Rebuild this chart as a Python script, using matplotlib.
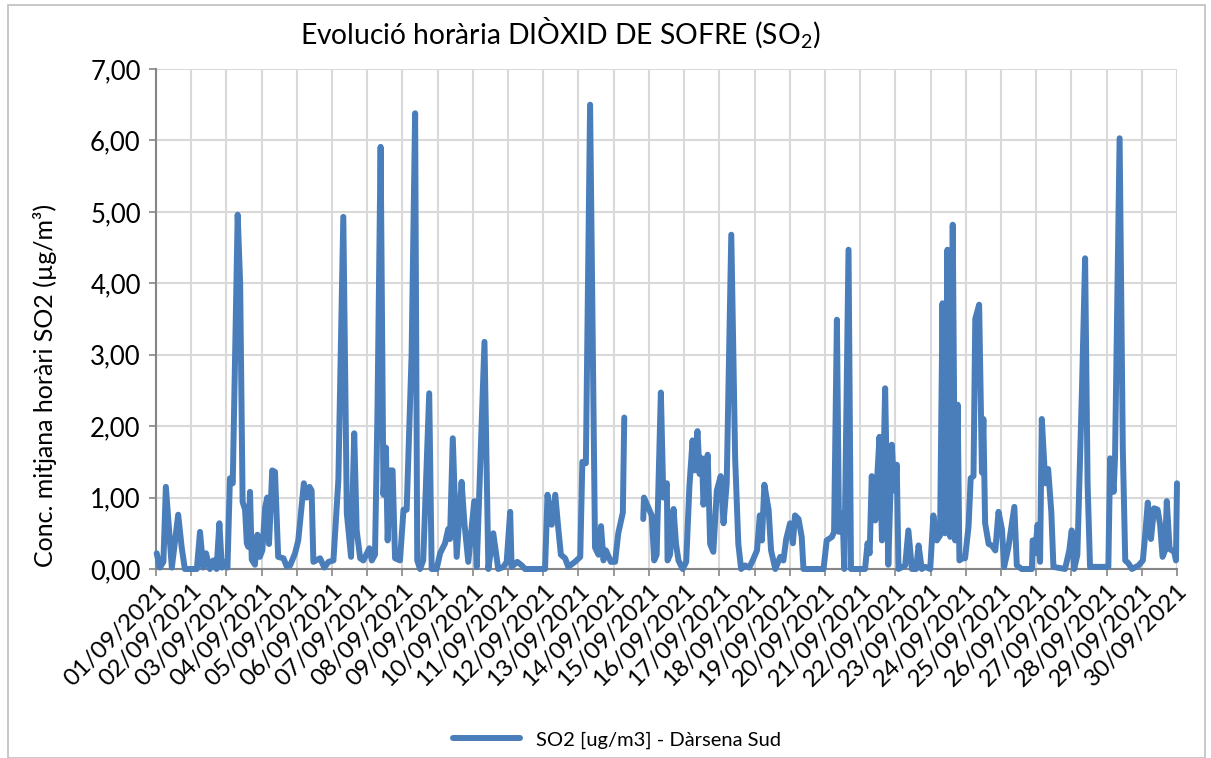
import matplotlib
matplotlib.use("Agg")
import matplotlib.pyplot as plt
import numpy as np
from matplotlib.patches import Rectangle
from matplotlib.ticker import FuncFormatter

plt.rcParams['font.family'] = ['Lato', 'DejaVu Sans']
plt.rcParams['mathtext.fontset'] = 'custom'
plt.rcParams['mathtext.rm'] = 'Lato'

# time in days since 01/09/2021 00:00, SO2 hourly concentration (ug/m3)
days = [0.02, 0.11, 0.21, 0.28, 0.45, 0.63, 0.73, 0.82, 1.16, 1.25, 1.34, 1.42, 1.53, 1.63, 1.72, 1.80, 1.87, 1.96, 2.03,
        2.10, 2.18, 2.32, 2.39, 2.46, 2.53, 2.58, 2.62, 2.67, 2.72, 2.81, 2.88, 2.95, 3.02, 3.10, 3.16, 3.21, 3.26, 3.30,
        3.38, 3.47, 3.62, 3.71, 3.81, 3.95, 4.04, 4.14, 4.20, 4.28, 4.36, 4.42, 4.47, 4.66, 4.78, 4.90, 5.04, 5.18, 5.32,
        5.42, 5.54, 5.63, 5.70, 5.80, 5.89, 6.06, 6.13, 6.22, 6.29, 6.38, 6.46, 6.53, 6.58, 6.65, 6.72, 6.79, 6.93, 7.03,
        7.12, 7.26, 7.36, 7.42, 7.50, 7.59, 7.76, 7.83, 7.97, 8.07, 8.21, 8.30, 8.35, 8.43, 8.54, 8.68, 8.76, 8.87, 9.04,
        9.11, 9.33, 9.44, 9.58, 9.72, 9.87, 9.96, 10.06, 10.10, 10.26, 10.39, 10.48, 11.05, 11.12, 11.24, 11.34, 11.43,
        11.50, 11.62, 11.71, 11.90, 12.05, 12.11, 12.21, 12.33, 12.47, 12.57, 12.64, 12.71, 12.78, 12.92, 13.04, 13.13,
        13.26, 13.30, 13.60, 13.84, 13.86, 13.99, 14.08, 14.15, 14.22, 14.34, 14.41, 14.51, 14.53, 14.60, 14.70, 14.77,
        14.84, 14.96, 15.06, 15.15, 15.24, 15.29, 15.38, 15.44, 15.51, 15.55, 15.67, 15.74, 15.83, 15.93, 16.04, 16.12,
        16.21, 16.34, 16.45, 16.54, 16.62, 16.73, 16.85, 16.95, 17.07, 17.15, 17.21, 17.28, 17.40, 17.47, 17.59, 17.73,
        17.82, 17.90, 18.01, 18.09, 18.15, 18.25, 18.34, 18.39, 18.96, 19.05, 19.20, 19.26, 19.34, 19.40, 19.50, 19.55,
        19.67, 19.74, 20.14, 20.21, 20.27, 20.33, 20.43, 20.47, 20.55, 20.62, 20.71, 20.80, 20.90, 20.97, 21.04, 21.09,
        21.28, 21.37, 21.47, 21.59, 21.66, 21.75, 21.85, 21.99, 22.08, 22.18, 22.27, 22.34, 22.41, 22.48, 22.56, 22.63,
        22.70, 22.77, 22.82, 22.89, 22.98, 23.08, 23.14, 23.22, 23.27, 23.38, 23.46, 23.50, 23.55, 23.65, 23.74, 23.84,
        23.93, 24.03, 24.09, 24.21, 24.38, 24.45, 24.59, 24.88, 24.90, 24.97, 25.04, 25.11, 25.16, 25.26, 25.34, 25.43,
        25.49, 25.82, 25.94, 26.01, 26.08, 26.17, 26.30, 26.39, 26.46, 26.53, 27.05, 27.10, 27.20, 27.24, 27.37, 27.46,
        27.53, 27.62, 27.72, 27.91, 28.03, 28.10, 28.17, 28.26, 28.35, 28.45, 28.52, 28.59, 28.66, 28.71, 28.79, 28.92,
        28.97, 29.0]
so2 = [0.22, 0.02, 0.10, 1.15, 0.02, 0.76, 0.30, 0.00, 0.00, 0.52, 0.02, 0.22, 0.00, 0.12, 0.00, 0.64, 0.02, 0.10, 0.02,
       1.27, 1.20, 4.96, 4.00, 0.94, 0.83, 0.36, 0.31, 1.08, 0.13, 0.06, 0.48, 0.17, 0.26, 0.86, 1.00, 0.35, 0.90, 1.38,
       1.36, 0.17, 0.15, 0.04, 0.05, 0.22, 0.40, 0.90, 1.20, 1.00, 1.15, 1.10, 0.10, 0.15, 0.02, 0.10, 0.12, 1.25, 4.93,
       0.78, 0.17, 1.90, 0.54, 0.15, 0.12, 0.29, 0.12, 0.20, 2.18, 5.91, 1.04, 1.70, 0.40, 1.38, 1.38, 0.15, 0.12, 0.83,
       0.83, 3.00, 6.38, 0.12, 0.00, 0.12, 2.46, 0.00, 0.00, 0.22, 0.36, 0.56, 0.42, 1.83, 0.17, 1.22, 0.64, 0.10, 0.95,
       0.03, 3.18, 0.00, 0.50, 0.00, 0.03, 0.10, 0.80, 0.03, 0.10, 0.05, 0.00, 0.00, 1.04, 0.62, 1.04, 0.55,
       0.20, 0.15, 0.03, 0.10, 0.17, 1.50, 1.48, 6.50, 0.30, 0.20, 0.60, 0.12, 0.26, 0.10, 0.10, 0.50,
       0.79, 2.12, np.nan, 0.70, 1.00, 0.85, 0.75, 0.12, 0.20, 2.47, 1.00, 1.20, 0.12, 0.20, 0.84, 0.35,
       0.12, 0.00, 0.10, 1.15, 1.80, 1.38, 1.93, 1.33, 1.55, 0.90, 1.60, 0.35, 0.24, 1.10, 1.30, 0.64,
       1.20, 4.68, 1.55, 0.35, 0.00, 0.05, 0.02, 0.12, 0.26, 0.75, 0.40, 1.18, 0.83, 0.26, 0.00, 0.17,
       0.12, 0.42, 0.64, 0.36, 0.75, 0.70, 0.45, 0.00, 0.00, 0.40, 0.45, 0.52, 3.49, 0.52, 0.78, 0.00,
       4.47, 0.00, 0.00, 0.36, 0.22, 1.30, 0.68, 1.15, 1.85, 0.40, 2.53, 0.06, 1.74, 1.10, 1.46, 0.00,
       0.05, 0.54, 0.00, 0.00, 0.33, 0.00, 0.03, 0.00, 0.75, 0.40, 0.47, 3.72, 0.50, 4.47, 0.45, 4.82,
       0.40, 2.30, 0.12, 0.15, 0.15, 0.60, 1.27, 1.30, 3.50, 3.70, 1.35, 2.10, 0.64, 0.35, 0.33, 0.26,
       0.80, 0.55, 0.03, 0.30, 0.87, 0.05, 0.00, 0.00, 0.40, 0.22, 0.62, 0.10, 2.10, 1.20, 1.40, 0.80,
       0.03, 0.00, 0.26, 0.54, 0.00, 0.20, 2.50, 4.35, 1.20, 0.03, 0.03, 1.55, 1.08, 1.57, 6.03, 1.70,
       0.12, 0.08, 0.00, 0.05, 0.12, 0.50, 0.93, 0.42, 0.85, 0.83, 0.62, 0.17, 0.26, 0.95, 0.28, 0.24,
       0.12, 1.20]

date_labels = ["%02d/09/2021" % d for d in range(1, 31)]
y_ticks = [0, 1, 2, 3, 4, 5, 6, 7]

title = "Evolució horària DIÒXID DE SOFRE (SO$_\\mathrm{2}$)"
ylabel = "Conc. mitjana horàri SO2 (µg/m³)"
series_label = "SO2 [ug/m3] - Dàrsena Sud"

fig = plt.figure(figsize=(12.11, 7.58), dpi=100)
ax = fig.add_axes([156 / 1211, 1 - 569 / 758, (1177 - 156) / 1211, (569 - 69) / 758])

line_color = "#4a7ebb"
ax.plot(days, so2, color=line_color, lw=4.3, solid_joinstyle='round', solid_capstyle='round',
        label=series_label, clip_on=False, zorder=3)

ax.set_xlim(0, 29)
ax.set_ylim(0, 7)
ax.set_xticks(range(len(date_labels)))
ax.set_xticklabels(date_labels, rotation=45, ha='right', rotation_mode='anchor', fontsize=17.5)
ax.set_yticks(y_ticks)
ax.yaxis.set_major_formatter(FuncFormatter(lambda v, p: ("%.2f" % v).replace('.', ',')))
ax.tick_params(axis='y', labelsize=18.5, length=5, width=1.2, color='#868686', pad=6)
ax.tick_params(axis='x', length=5, width=1.2, color='#868686', pad=3)

ax.grid(True, color='#d9d9d9', lw=1.5)
ax.set_axisbelow(True)
for s in ['top', 'right']:
    ax.spines[s].set_visible(False)
for s in ['left', 'bottom']:
    ax.spines[s].set_color('#868686')
    ax.spines[s].set_linewidth(1.5)

fig.text(45 / 1211, 1 - 385 / 758, ylabel, fontsize=18, rotation=90, ha='center', va='center')
fig.text(560 / 1211, 1 - 33 / 758, title, fontsize=20.3, ha='center', va='center')

leg = fig.legend(loc='center', bbox_to_anchor=(617 / 1211, 1 - 740 / 758), frameon=False,
                 fontsize=14.5, handlelength=3.3)

fig.patches.append(Rectangle((8 / 1211, 0), 1197 / 1211, 1 - 5 / 758, transform=fig.transFigure,
                             fill=False, edgecolor='#bfbfbf', lw=1.2))

fig.savefig("out.png", dpi=100)
